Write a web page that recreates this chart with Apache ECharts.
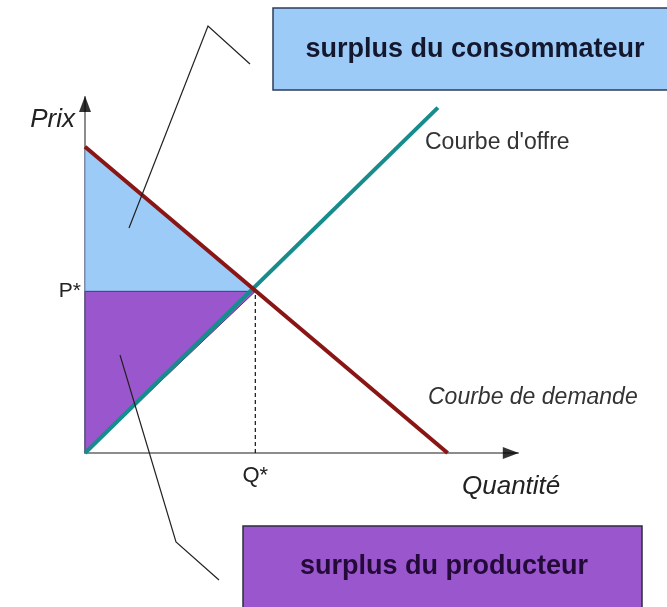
<!DOCTYPE html>
<html>
<head>
<meta charset="utf-8">
<script src="https://cdn.jsdelivr.net/npm/echarts@6/dist/echarts.min.js"></script>
<style>
  html, body { margin: 0; padding: 0; background: #fff; }
  #main { width: 667px; height: 607px; }
</style>
</head>
<body>
<div id="main"></div>
<script>
// supply / demand curves (quantity, price)
var demandQ = [0, 10.05];
var demandP = [8.6, 0];
var supplyQ = [0, 9.78];
var supplyP = [0, 9.7];
// equilibrium
var eqQ = 4.72;
var eqP = 4.54;
// axis ends and arrow heads
var qMax = 12;
var pMax = 10;
var arrowX = [11.8, 0];
var arrowY = [0, 9.8];

var font = 'Liberation Sans, Arial, sans-serif';

var consumerArea = [[0, demandP[0]], [0, eqP], [eqQ, eqP]];
var producerArea = [[0, eqP], [0, 0], [eqQ, eqP]];

function polygon(pts, fill, stroke) {
  return function (params, api) {
    return {
      type: 'polygon',
      shape: { points: pts.map(function (p) { return api.coord(p); }) },
      style: { fill: fill, stroke: stroke, lineWidth: 1 }
    };
  };
}

var myChart = echarts.init(document.getElementById('main'));

var option = {
  backgroundColor: '#fff',
  animation: false,
  grid: { left: 85, right: 149, top: 97, bottom: 154 },
  xAxis: {
    type: 'value', min: 0, max: qMax,
    axisLine: { lineStyle: { color: '#8c8c8c', width: 2 } },
    axisTick: { show: false },
    splitLine: { show: false },
    axisLabel: {
      customValues: [eqQ],
      formatter: function () { return 'Q*'; },
      margin: 12,
      fontFamily: font, fontSize: 22, color: '#222'
    }
  },
  yAxis: {
    type: 'value', min: 0, max: pMax,
    axisLine: { lineStyle: { color: '#8c8c8c', width: 2 } },
    axisTick: { show: false },
    splitLine: { show: false },
    axisLabel: {
      customValues: [eqP],
      formatter: function () { return 'P*'; },
      margin: 4,
      fontFamily: font, fontSize: 21, color: '#222'
    }
  },
  series: [
    {
      type: 'custom', z: 1,
      data: [0],
      renderItem: polygon(consumerArea, '#9dcbf7', '#6f8fc0')
    },
    {
      type: 'custom', z: 1,
      data: [0],
      renderItem: polygon(producerArea, '#9a56cc', '#4a3a8a')
    },
    {
      type: 'line', z: 2,
      data: [[eqQ, 0], [eqQ, eqP]],
      symbol: 'none',
      lineStyle: { color: '#111', width: 1.2, type: [4, 3] }
    },
    {
      type: 'line', z: 3,
      data: supplyQ.map(function (q, i) { return [q, supplyP[i]]; }),
      symbol: 'none',
      lineStyle: { color: '#168c8c', width: 4 }
    },
    {
      type: 'line', z: 4,
      data: demandQ.map(function (q, i) { return [q, demandP[i]]; }),
      symbol: 'none',
      lineStyle: { color: '#8a1515', width: 4 }
    },
    {
      type: 'scatter', z: 5, clip: false,
      symbol: 'triangle', symbolSize: [12, 16],
      itemStyle: { color: '#000' },
      data: [
        { value: arrowX, symbolRotate: -90 },
        { value: arrowY, symbolRotate: 0 }
      ]
    }
  ],
  graphic: [
    {
      type: 'rect', z: 10,
      shape: { x: 273, y: 8, width: 400, height: 82 },
      style: { fill: '#9dcbf7', stroke: '#2d3d5c', lineWidth: 1.5 }
    },
    {
      type: 'text', z: 11, x: 475, y: 50,
      style: {
        text: 'surplus du consommateur', fill: '#14182e',
        font: 'bold 27px ' + font, align: 'center', verticalAlign: 'middle'
      }
    },
    {
      type: 'rect', z: 10,
      shape: { x: 243, y: 526, width: 399, height: 90 },
      style: { fill: '#9a56cc', stroke: '#2d2d3d', lineWidth: 1.5 }
    },
    {
      type: 'text', z: 11, x: 444, y: 567,
      style: {
        text: 'surplus du producteur', fill: '#230a38',
        font: 'bold 27px ' + font, align: 'center', verticalAlign: 'middle'
      }
    },
    {
      type: 'polyline', z: 12,
      shape: { points: [[129, 228], [208, 26], [250, 64]] },
      style: { stroke: '#222', lineWidth: 1.2, fill: null }
    },
    {
      type: 'polyline', z: 12,
      shape: { points: [[120, 355], [176, 542], [219, 580]] },
      style: { stroke: '#222', lineWidth: 1.2, fill: null }
    },
    {
      type: 'text', z: 11, x: 75, y: 120,
      style: {
        text: 'Prix', fill: '#222',
        font: 'italic 26px ' + font, align: 'right', verticalAlign: 'middle'
      }
    },
    {
      type: 'text', z: 11, x: 462, y: 487,
      style: {
        text: 'Quantité', fill: '#222',
        font: 'italic 26px ' + font, align: 'left', verticalAlign: 'middle'
      }
    },
    {
      type: 'text', z: 11, x: 425, y: 143,
      style: {
        text: "Courbe d'offre", fill: '#333',
        font: '23px ' + font, align: 'left', verticalAlign: 'middle'
      }
    },
    {
      type: 'text', z: 11, x: 428, y: 398,
      style: {
        text: 'Courbe de demande', fill: '#333',
        font: 'italic 23px ' + font, align: 'left', verticalAlign: 'middle'
      }
    }
  ]
};

myChart.setOption(option);
</script>
</body>
</html>
